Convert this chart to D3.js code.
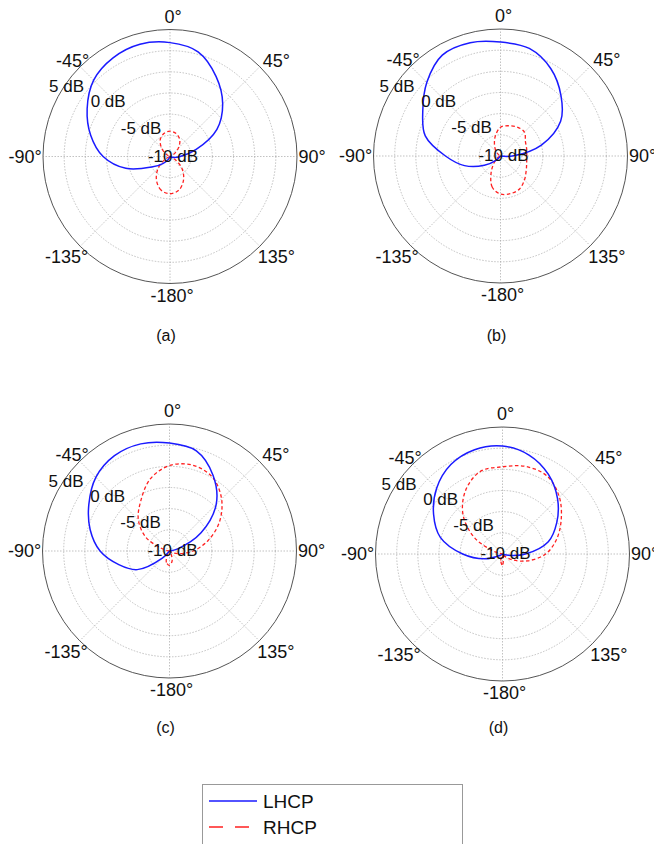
<!DOCTYPE html>
<html>
<head>
<meta charset="utf-8">
<script src="https://cdn.jsdelivr.net/npm/d3@7"></script>
<style>
  body { margin: 0; background: #fff; }
  svg { display: block; font-family: "Liberation Sans", Arial, Helvetica, sans-serif; }
</style>
</head>
<body>
<div id="chart"></div>
<script>
// sizes of the page
var svgWidth = 654;
var svgHeight = 844;
var R = 127;

// angle categories (deg, 0 at top, clockwise)
var angles = [-180, -165, -150, -135, -120, -105, -90, -75, -60, -45, -30, -15,
              0, 15, 30, 45, 60, 75, 90, 105, 120, 135, 150, 165];

// gain in dB
var lhcpA = [-10, -10, -9.6, -8.8, -7.5, -4.6, -2.1, -0.3, 1.3, 2.75, 3.45, 3.72,
             3.45, 2.8, 0.9, -1.2, -3.6, -6.8, -8.8, -9.6, -10, -10, -10, -10];
var rhcpA = [-5.6, -5.9, -6.8, -8, -9.3, -10, -10, -10, -9.5, -8.6, -7.7, -7.2,
             -7, -7.2, -7.7, -8.6, -9.5, -10, -10, -10, -9.3, -8, -6.8, -5.9];

var lhcpB = [-10, -10, -10, -9.3, -7.8, -5.6, -3.5, -0.8, 0.6, 2.3, 3.75, 3.85,
             3.46, 3.15, 1.9, 0.1, -1.8, -5.0, -8.6, -10, -10, -10, -10, -10];
var rhcpB = [-5.5, -6.2, -7.8, -9, -9.6, -10, -10, -10, -9.8, -9.3, -8.6, -7.6,
             -6.6, -6.3, -6.05, -6, -6.6, -6.8, -6.9, -6.8, -6.5, -6, -5.5, -5.4];

var lhcpC = [-10, -10, -10, -8.8, -5.6, -3.8, -1.8, -0.3, 1.0, 2.3, 3.0, 3.1,
             2.75, 2.25, 0.3, -2.2, -5.7, -9, -10, -10, -10, -10, -10, -10];
var rhcpC = [-8.3, -8.6, -9.5, -10, -10, -10, -10, -9.3, -6.8, -4.8, -3.2, -1.2,
             0.1, 0.5, 0.1, -1.3, -3.2, -5.3, -7.2, -8.8, -9.6, -10, -9.7, -8.8];

var lhcpD = [-10, -10, -10, -10, -9.7, -7.8, -5.3, -2.4, -0.6, 1.0, 2.2, 2.75,
             2.75, 2.1, 0.85, -0.8, -2.6, -4.4, -7.3, -9.5, -10, -10, -10, -10];
var rhcpD = [-8.6, -9.2, -10, -10, -10, -10, -10, -9.2, -6.2, -3.4, -1.3, 0.1,
             0.3, 0.7, 0.6, -0.5, -2.0, -3.4, -4.9, -6.9, -8.6, -9.6, -10, -9.6];

// axis ticks
var ringLevels = [-7.5, -5, -2.5, 0, 2.5];
var rTickValues = [-10, -5, 0, 5];
var rTickLabels = ["-10 dB", "-5 dB", "0 dB", "5 dB"];
var thetaTicks = [0, 45, 90, 135, 180, -135, -90, -45];
var thetaLabels = ["0\u00b0", "45\u00b0", "90\u00b0", "135\u00b0", "-180\u00b0", "-135\u00b0", "-90\u00b0", "-45\u00b0"];

var panelNames = ["(a)", "(b)", "(c)", "(d)"];
var seriesNames = ["LHCP", "RHCP"];

// label placement tweaks (layout only)
var thetaNudgeX = [3, 6, 0, 6, 2, -3, -3, 3];
var thetaNudgeY = [2, 4, 0, 0, -3, 0, 0, 4];
var rLabelAngle = [-50, -49, -50, -57];

// panel placement
var panels = [
  {name: panelNames[0], cx: 170, cy: 156.5, lhcp: lhcpA, rhcp: rhcpA, capY: 341},
  {name: panelNames[1], cx: 500.5, cy: 156, lhcp: lhcpB, rhcp: rhcpB, capY: 341},
  {name: panelNames[2], cx: 169.5, cy: 551, lhcp: lhcpC, rhcp: rhcpC, capY: 733},
  {name: panelNames[3], cx: 502.5, cy: 554, lhcp: lhcpD, rhcp: rhcpD, capY: 733}
];

var svg = d3.select("#chart")
  .append("svg")
  .attr("width", svgWidth)
  .attr("height", svgHeight);

var rScale = d3.scaleLinear().domain([-10, 5]).range([0, R]).clamp(true);
var toRad = function(d) { return d * Math.PI / 180; };

var radial = d3.lineRadial()
  .angle(function(d) { return toRad(d[0]); })
  .radius(function(d) { return rScale(d[1]); })
  .curve(d3.curveCatmullRomClosed.alpha(0.5));

panels.forEach(function(p) {
  var g = svg.append("g").attr("transform", "translate(" + p.cx + "," + p.cy + ")");

  // grid rings
  g.selectAll(".ring")
    .data(ringLevels)
    .enter()
    .append("circle")
    .attr("r", function(d) { return rScale(d); })
    .attr("fill", "none")
    .attr("stroke", "#a8a8a8")
    .attr("stroke-width", 0.7)
    .attr("stroke-dasharray", "1.5,1.5");

  // spokes
  g.selectAll(".spoke")
    .data(thetaTicks)
    .enter()
    .append("line")
    .attr("x1", 0).attr("y1", 0)
    .attr("x2", function(d) { return R * Math.sin(toRad(d)); })
    .attr("y2", function(d) { return -R * Math.cos(toRad(d)); })
    .attr("stroke", "#a8a8a8")
    .attr("stroke-width", 0.7)
    .attr("stroke-dasharray", "1.5,1.5");

  // outer circle
  g.append("circle")
    .attr("r", R)
    .attr("fill", "none")
    .attr("stroke", "#555")
    .attr("stroke-width", 1);

  // angle labels
  g.selectAll(".tlabel")
    .data(thetaTicks)
    .enter()
    .append("text")
    .attr("x", function(d, i) { return 142 * Math.sin(toRad(d)) + thetaNudgeX[i]; })
    .attr("y", function(d, i) { return -142 * Math.cos(toRad(d)) + thetaNudgeY[i]; })
    .attr("dy", "0.36em")
    .attr("text-anchor", "middle")
    .attr("font-size", "18px")
    .attr("fill", "#111")
    .text(function(d, i) { return thetaLabels[i]; });

  // curves
  var lh = angles.map(function(a, i) { return [a, p.lhcp[i]]; });
  var rh = angles.map(function(a, i) { return [a, p.rhcp[i]]; });

  g.append("path")
    .attr("d", radial(rh))
    .attr("fill", "none")
    .attr("stroke", "#ff2020")
    .attr("stroke-width", 1.3)
    .attr("stroke-dasharray", "3.5,2.5");

  g.append("path")
    .attr("d", radial(lh))
    .attr("fill", "none")
    .attr("stroke", "#1a1aff")
    .attr("stroke-width", 1.5);

  // radial tick labels
  g.selectAll(".rlabel")
    .data(rTickValues)
    .enter()
    .append("text")
    .attr("x", function(d, i) { return rScale(d) * Math.sin(toRad(rLabelAngle[i])) + 3; })
    .attr("y", function(d, i) { return -rScale(d) * Math.cos(toRad(rLabelAngle[i])) - 1; })
    .attr("dy", "0.36em")
    .attr("text-anchor", "middle")
    .attr("font-size", "17px")
    .attr("fill", "#111")
    .text(function(d, i) { return rTickLabels[i]; });

  // caption
  svg.append("text")
    .attr("x", p.cx - 4)
    .attr("y", p.capY)
    .attr("text-anchor", "middle")
    .attr("font-size", "16px")
    .attr("fill", "#111")
    .text(p.name);
});

// legend
var legend = svg.append("g");
legend.append("rect")
  .attr("x", 202.5).attr("y", 784.5)
  .attr("width", 260).attr("height", 80)
  .attr("fill", "#fff")
  .attr("stroke", "#999")
  .attr("stroke-width", 1);

legend.append("line")
  .attr("x1", 209).attr("x2", 257)
  .attr("y1", 801).attr("y2", 801)
  .attr("stroke", "#1a1aff").attr("stroke-width", 1.3);
legend.append("line")
  .attr("x1", 209).attr("x2", 251)
  .attr("y1", 827).attr("y2", 827)
  .attr("stroke", "#ff2020").attr("stroke-width", 1.3)
  .attr("stroke-dasharray", "14,12");

legend.selectAll(".ltext")
  .data(seriesNames)
  .enter()
  .append("text")
  .attr("x", 263)
  .attr("y", function(d, i) { return 808 + i * 26; })
  .attr("font-size", "19px")
  .attr("fill", "#111")
  .text(function(d) { return d; });
</script>
</body>
</html>
